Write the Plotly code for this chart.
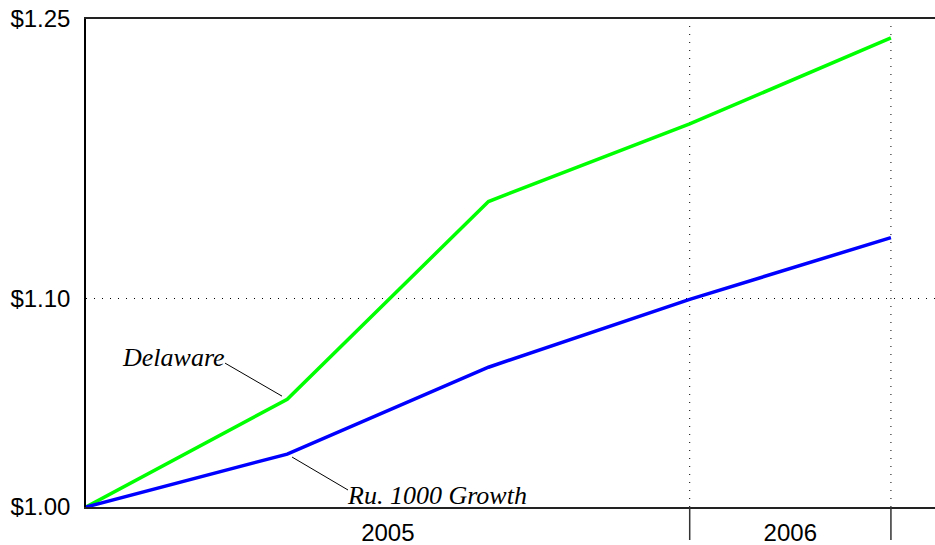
import math
import plotly.graph_objects as go

# Data (growth of $1)
periods = [0, 1, 2, 3, 4]
delaware = [1.0, 1.0505, 1.1499, 1.1915, 1.2392]
russell = [1.0, 1.0245, 1.0660, 1.0996, 1.1311]
y_ticks = [1.00, 1.10, 1.25]
y_ticktext = ["$1.00", "$1.10", "$1.25"]
year_labels = ["2005", "2006"]
year_pos = [1.5, 3.5]
year_bounds = [3, 4]

fig = go.Figure()
fig.add_trace(go.Scatter(x=periods, y=delaware, mode="lines",
                         line=dict(color="#00ff00", width=3.5), name="Delaware"))
fig.add_trace(go.Scatter(x=periods, y=russell, mode="lines",
                         line=dict(color="#0000ff", width=3.5), name="Ru. 1000 Growth"))

PLOT_H = 545 - 19 - 38
shapes = []
# vertical dotted lines at year boundaries + tick marks below axis
for b in year_bounds:
    shapes.append(dict(type="line", xref="x", yref="paper", x0=b, x1=b, y0=0, y1=1,
                       line=dict(color="black", width=1, dash="1px,7px"), layer="below"))
    shapes.append(dict(type="line", xref="x", yref="paper", x0=b, x1=b, y0=0, y1=-33/PLOT_H,
                       line=dict(color="#333333", width=1.5)))
# leader lines
shapes.append(dict(type="line", xref="x", yref="y", x0=0.691, y0=1.0680, x1=0.974, y1=1.0520,
                   line=dict(color="black", width=1)))
shapes.append(dict(type="line", xref="x", yref="y", x0=1.024, y0=1.0231, x1=1.302, y1=1.0078,
                   line=dict(color="black", width=1)))

annotations = [
    dict(x=0.437, y=math.log10(1.0709), xref="x", yref="y", text="<i>Delaware</i>", showarrow=False,
         font=dict(family="Liberation Serif", size=26, color="black"), xanchor="center", yanchor="middle"),
    dict(x=1.744, y=math.log10(1.0055), xref="x", yref="y", text="<i>Ru. 1000 Growth</i>", showarrow=False,
         font=dict(family="Liberation Serif", size=26, color="black"), xanchor="center", yanchor="middle"),
]

fig.update_layout(
    width=935, height=545,
    margin=dict(l=86, r=0, t=19, b=38),
    plot_bgcolor="white", paper_bgcolor="white",
    showlegend=False,
    shapes=shapes,
    annotations=annotations,
    font=dict(family="Liberation Sans, Arial", size=24, color="black"),
    xaxis=dict(range=[0, 4.219], tickvals=year_pos, ticktext=year_labels, ticks="",
               showgrid=False, zeroline=False, showline=True, linecolor="#222222", linewidth=1.5,
               mirror=True, ticklabelstandoff=3, tickfont=dict(size=24)),
    yaxis=dict(type="log", range=[0, math.log10(1.25)], tickvals=y_ticks, ticktext=y_ticktext,
               ticks="", showgrid=True, gridcolor="black", griddash="1px,7px", gridwidth=1,
               zeroline=False, showline=True, linecolor="black", linewidth=1.5, mirror=False,
               ticklabelstandoff=9, tickfont=dict(size=24)),
)

fig.write_html("out.html")
